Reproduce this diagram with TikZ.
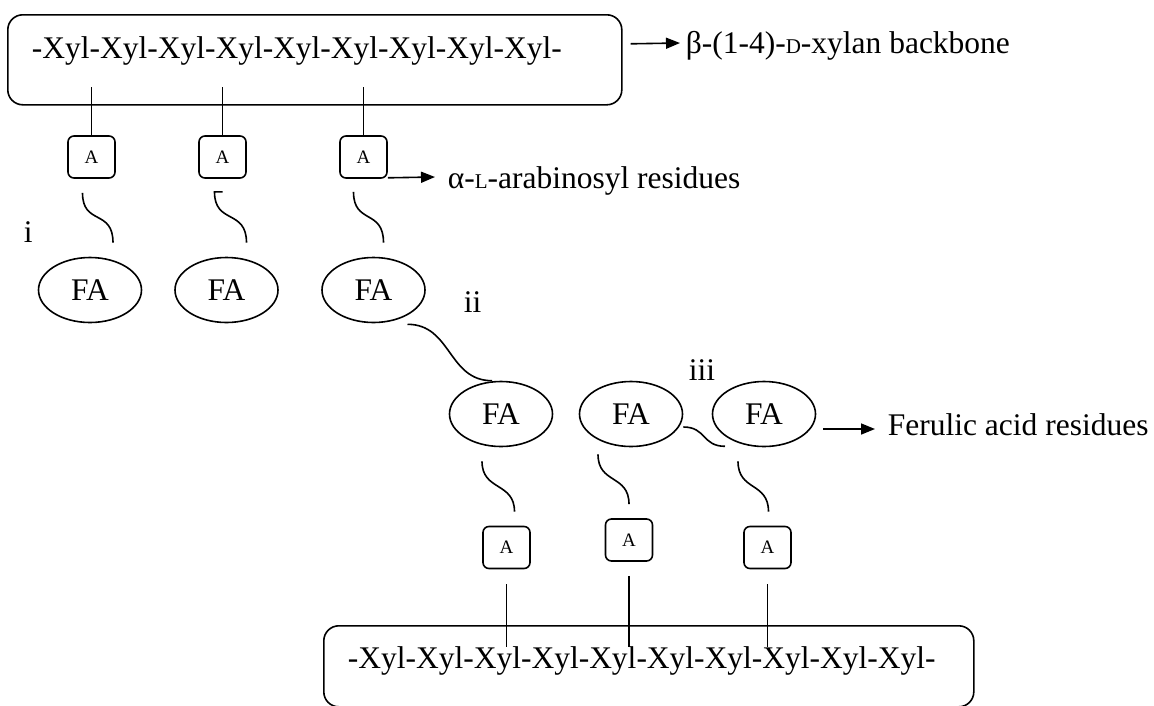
\documentclass[tikz,border=0pt]{standalone}
\usepackage{fontspec}
\setmainfont{Liberation Serif}
\usetikzlibrary{shapes.geometric,arrows.meta}

\newcommand{\smcap}[1]{{\fontsize{21}{21}\selectfont #1}}

\begin{document}
\begin{tikzpicture}[x=1pt, y=-1pt, line width=1.6pt,
    every node/.style={font=\fontsize{31.5}{36}\selectfont},
    backbone/.style={draw, rounded corners=15pt, anchor=north west, align=left, inner xsep=24pt, inner ysep=0pt},
    ara/.style={draw, rounded corners=6pt, minimum width=47pt, minimum height=42pt, inner sep=0pt, font=\fontsize{19}{19}\selectfont},
    fa/.style={draw, ellipse, minimum width=103pt, minimum height=65pt, inner sep=0pt},
    lbl/.style={anchor=base west, inner sep=0pt},
    tip/.style={-{Triangle[length=14pt,width=11pt]}}]
    \useasboundingbox (0,0) rectangle (1154,705);
    \node[backbone, text width=566pt, text height=44pt, text depth=46pt] (xylA) at (7,14) {-Xyl-Xyl-Xyl-Xyl-Xyl-Xyl-Xyl-Xyl-Xyl-};
    \node[backbone, text width=602pt, text height=43pt, text depth=38pt] (xylB) at (323,625) {-Xyl-Xyl-Xyl-Xyl-Xyl-Xyl-Xyl-Xyl-Xyl-Xyl-};
    \node[ara] (a1) at (91.5,157) {A};
    \node[ara] (a2) at (222.5,157) {A};
    \node[ara] (a3) at (363.5,157) {A};
    \node[fa] (f1) at (90,290) {FA};
    \node[fa] (f2) at (226.5,290) {FA};
    \node[fa] (f3) at (373.5,290) {FA};
    \node[fa] (f4) at (501,414) {FA};
    \node[fa] (f5) at (631,414) {FA};
    \node[fa] (f6) at (764,414) {FA};
    \node[ara] (b1) at (506.5,547.5) {A};
    \node[ara] (b2) at (629,540) {A};
    \node[ara] (b3) at (767.5,547.5) {A};
    \node[lbl] (lxyl) at (685,53) {β-(1-4)-\smcap{D}-xylan backbone};
    \node[lbl] (lara) at (447,188) {α-\smcap{L}-arabinosyl residues};
    \node[lbl] (lfa) at (887,435) {Ferulic acid residues};
    \node[lbl] (ni) at (23,242) {i};
    \node[lbl] (nii) at (463,312) {ii};
    \node[lbl] (niii) at (688,380) {iii};
    \draw (a1.north) -- ++(0,-48);
    \draw (a2.north) -- ++(0,-48);
    \draw (a3.north) -- ++(0,-48);
    \draw ([shift={(-9,14)}]a1.south) .. controls +(0,33) and +(0,-34) .. ([shift={(23,-14)}]f1.north);
    \draw ([shift={(0,13)}]a2.south) -- ++(-8,0) .. controls +(0,33) and +(0,-34) .. ([shift={(20,-14)}]f2.north);
    \draw ([shift={(-10,13)}]a3.south) .. controls +(0,33) and +(0,-34) .. ([shift={(10,-14)}]f3.north);
    \draw ([shift={(34,1)}]f3.south) .. controls +(44,0) and +(-44,0) .. ([shift={(-9,0)}]f4.north);
    \draw ([shift={(0,13)}]f5.east) .. controls +(23,0) and +(-23,0) .. ([shift={(-39,-1)}]f6.south);
    \draw ([shift={(-19,14)}]f4.south) .. controls +(0,30) and +(0,-30) .. ([shift={(8,-14)}]b1.north);
    \draw ([shift={(-33,7)}]f5.south) .. controls +(0,30) and +(0,-30) .. ([shift={(0,-14)}]b2.north);
    \draw ([shift={(-26,14)}]f6.south) .. controls +(0,30) and +(0,-30) .. ([shift={(1,-14)}]b3.north);
    \draw ([yshift=-15pt]b1.south) -- ++(0,63);
    \draw ([yshift=-14pt]b2.south) -- ++(0,71);
    \draw ([yshift=-15pt]b3.south) -- ++(0,63);
    \draw[tip] ([shift={(8,-16)}]xylA.east) -- ([shift={(-5,-10)}]lxyl.base west);
    \draw[tip] ([yshift=1pt]a3.south east) -- ([shift={(-12,-11)}]lara.base west);
    \draw[tip] ([shift={(7,15)}]f6.east) -- ([shift={(-12,-6)}]lfa.base west);
\end{tikzpicture}
\end{document}
